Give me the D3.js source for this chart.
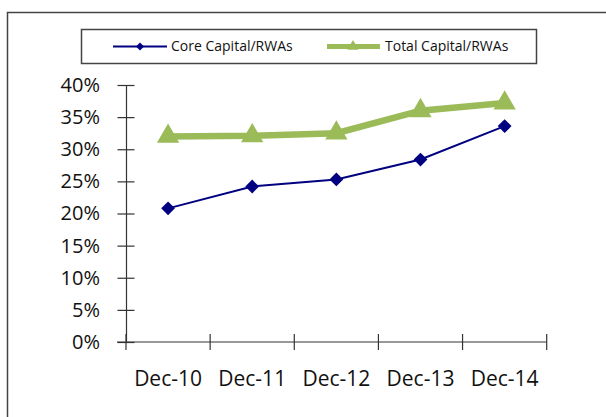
<!DOCTYPE html>
<html><head><meta charset="utf-8">
<script src="https://cdn.jsdelivr.net/npm/d3@7"></script>
<style>body{margin:0;background:#fff}svg{display:block}</style>
</head><body>
<svg id="c" width="606" height="417"></svg>
<script>
const categories = ["Dec-10","Dec-11","Dec-12","Dec-13","Dec-14"];
const coreCapital = [20.8, 24.2, 25.3, 28.4, 33.6];
const totalCapital = [32.0, 32.1, 32.5, 36.0, 37.2];
const yTicks = [0,5,10,15,20,25,30,35,40];
const seriesNames = ["Core Capital/RWAs","Total Capital/RWAs"];

const svg = d3.select("#c");
const font = "'Open Sans', sans-serif";
// outer frame
svg.append("rect").attr("x",7.5).attr("y",12.5).attr("width",620).attr("height",420)
  .attr("fill","none").attr("stroke","#444").attr("stroke-width",1.5);

const pLeft = 126, pRight = 546.7, pTop = 85, pBottom = 342;
const x = d3.scaleBand().domain(categories).range([pLeft,pRight]);
const y = d3.scaleLinear().domain([0,40]).range([pBottom,pTop]);

// Y axis
const gy = svg.append("g").attr("transform",`translate(${pLeft},0)`)
  .call(d3.axisLeft(y).tickValues(yTicks).tickFormat(d=>d+"%").tickSize(0).tickPadding(26));
gy.select(".domain").attr("stroke","#333").attr("stroke-width",1.2);
gy.selectAll(".tick").append("line").attr("x1",-8.5).attr("x2",8.5).attr("stroke","#333").attr("stroke-width",1.2);
gy.selectAll("text").attr("font-family",font).attr("font-size",20).attr("fill","#111");

// X axis
const gx = svg.append("g").attr("transform",`translate(0,${pBottom})`)
  .call(d3.axisBottom(x).tickSize(0).tickPadding(29));
gx.select(".domain").attr("d",`M${pLeft-9},0H${pRight}`).attr("stroke","#333").attr("stroke-width",1.2);
gx.selectAll("text").attr("font-family",font).attr("font-size",21).attr("fill","#111");
const bounds = categories.map(c=>x(c)).concat([x(categories[categories.length-1])+x.bandwidth()]);
gx.selectAll(".bt").data(bounds).enter().append("line").attr("class","bt")
  .attr("x1",d=>d).attr("x2",d=>d).attr("y1",-8).attr("y2",8).attr("stroke","#333").attr("stroke-width",1.2);

const cx = c => x(c)+x.bandwidth()/2;
const line = d3.line().x((d,i)=>cx(categories[i])).y(d=>y(d));

const green = "#9BBB59", navy = "#000080";
svg.append("path").datum(totalCapital).attr("d",line).attr("fill","none").attr("stroke",green).attr("stroke-width",6.5);
svg.append("path").datum(coreCapital).attr("d",line).attr("fill","none").attr("stroke",navy).attr("stroke-width",2);

const tri = d3.symbol().type(d3.symbolTriangle).size(215);
const dia = d3.symbol().type(d3.symbolSquare).size(95);
svg.selectAll(".tri").data(totalCapital).enter().append("path")
  .attr("d",tri).attr("fill",green)
  .attr("transform",(d,i)=>`translate(${cx(categories[i])},${y(d)})`);
svg.selectAll(".dia").data(coreCapital).enter().append("path")
  .attr("d",dia).attr("fill",navy)
  .attr("transform",(d,i)=>`translate(${cx(categories[i])},${y(d)}) rotate(45)`);

// legend
svg.append("rect").attr("x",81.5).attr("y",29.5).attr("width",455).attr("height",34)
  .attr("fill","#fff").attr("stroke","#444").attr("stroke-width",1.5);
const ly = 46.5;
svg.append("line").attr("x1",113).attr("x2",167).attr("y1",ly).attr("y2",ly).attr("stroke",navy).attr("stroke-width",2);
svg.append("path").attr("d",d3.symbol().type(d3.symbolSquare).size(32)).attr("fill",navy)
  .attr("transform",`translate(140,${ly}) rotate(45)`);
svg.append("text").attr("x",171).attr("y",ly).attr("dy","0.35em").text(seriesNames[0])
  .attr("font-family",font).attr("font-size",14).attr("fill","#111");
svg.append("line").attr("x1",327).attr("x2",380).attr("y1",ly).attr("y2",ly).attr("stroke",green).attr("stroke-width",5);
svg.append("path").attr("d",d3.symbol().type(d3.symbolTriangle).size(55)).attr("fill",green)
  .attr("transform",`translate(353,${ly})`);
svg.append("text").attr("x",385).attr("y",ly).attr("dy","0.35em").text(seriesNames[1])
  .attr("font-family",font).attr("font-size",14).attr("fill","#111");
</script>
</body></html>
